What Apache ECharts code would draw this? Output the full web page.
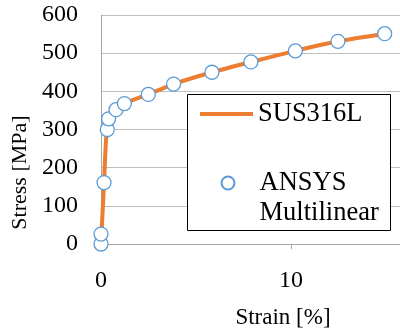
<!DOCTYPE html>
<html>
<head>
<meta charset="utf-8">
<script src="https://cdn.jsdelivr.net/npm/echarts@6/dist/echarts.min.js"></script>
<style>
  html, body { margin: 0; padding: 0; background: #fff; }
  #chart { width: 400px; height: 331px; }
</style>
</head>
<body>
<div id="chart"></div>
<script>
// stress-strain curve (strain %, stress MPa)
var curveStrain = [0, 0.06, 0.16, 0.26, 0.33, 0.4, 0.79, 1.23, 2.49, 3.82, 5.84, 7.89, 10.23, 12.47, 14.93];
var curveStress = [0, 60, 161, 270, 300, 328, 352, 368, 392, 419, 450, 477, 506, 531, 551];

// ANSYS multilinear points
var ansysStrain = [0, 0, 0.16, 0.33, 0.4, 0.79, 1.23, 2.49, 3.82, 5.84, 7.89, 10.23, 12.47, 14.93];
var ansysStress = [0, 26, 161, 300, 328, 352, 368, 392, 419, 450, 477, 506, 531, 551];

var serif = 'Liberation Serif';

function pairs(xs, ys) {
	var out = [];
	for (var i = 0; i < xs.length; i++) {
		out.push([xs[i], ys[i]]);
	}
	return out;
}

var myChart = echarts.init(document.getElementById('chart'));
var option = {
	animation: false,
	backgroundColor: '#fff',
	grid: { left: 101, right: -5, top: 15, bottom: 87, outerBoundsMode: 'none', containLabel: false },
	xAxis: {
		type: 'value',
		min: 0,
		max: 16,
		interval: 10,
		name: 'Strain [%]',
		nameLocation: 'middle',
		nameGap: 62,
		nameTextStyle: { fontFamily: serif, fontSize: 23, color: '#000', padding: [0, 0, 0, 60] },
		axisLine: { show: true, lineStyle: { color: '#a6a6a6', width: 1 } },
		axisTick: { show: true, length: 5, lineStyle: { color: '#a6a6a6' } },
		axisLabel: { fontFamily: serif, fontSize: 24, color: '#000', margin: 25, showMaxLabel: false },
		splitLine: { show: false }
	},
	yAxis: {
		type: 'value',
		min: 0,
		max: 600,
		interval: 100,
		name: 'Stress [MPa]',
		nameLocation: 'middle',
		nameGap: 68,
		nameTextStyle: { fontFamily: serif, fontSize: 22, color: '#000', padding: [0, 86, 0, 0] },
		axisLine: { show: true, lineStyle: { color: '#a6a6a6', width: 1 } },
		axisTick: { show: false },
		axisLabel: { fontFamily: serif, fontSize: 24, color: '#000', margin: 23 },
		splitLine: { show: true, lineStyle: { color: '#bfbfbf', width: 1 } }
	},
	graphic: [{
		type: 'rect',
		z: 3,
		shape: { x: 187.5, y: 94.5, width: 203, height: 136 },
		style: { fill: '#fff', stroke: '#000', lineWidth: 1 }
	}],
	legend: [{
		data: [{ name: 'SUS316L', icon: 'rect' }],
		left: 200,
		top: 99,
		padding: 0,
		itemWidth: 53,
		itemHeight: 4,
		itemGap: 0,
		textStyle: { fontFamily: serif, fontSize: 26.5, color: '#000', lineHeight: 30 }
	}, {
		data: [{ name: 'ANSYS Multilinear' }],
		left: 220.5,
		top: 138,
		padding: 0,
		itemWidth: 13,
		itemHeight: 13,
		formatter: function (name) { return '\n' + name.replace(' ', '\n'); },
		textStyle: { fontFamily: serif, fontSize: 26.5, color: '#000', lineHeight: 30, padding: [0, 0, 0, 20] }
	}],
	series: [{
		name: 'SUS316L',
		type: 'line',
		data: pairs(curveStrain, curveStress),
		smooth: 0.2,
		symbol: 'none',
		lineStyle: { color: '#ed7d31', width: 4 },
		itemStyle: { color: '#ed7d31' },
		z: 2
	}, {
		name: 'ANSYS Multilinear',
		type: 'scatter',
		data: pairs(ansysStrain, ansysStress),
		symbol: 'circle',
		symbolSize: 14,
		itemStyle: { color: '#fff', borderColor: '#5b9bd5', borderWidth: 1.3, opacity: 1 },
		z: 5
	}]
};
myChart.setOption(option);
</script>
</body>
</html>
